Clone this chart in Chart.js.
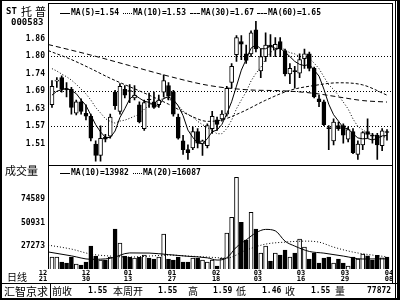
<!DOCTYPE html>
<html lang="zh-CN">
<head>
<meta charset="UTF-8">
<title>ST托普 000583 日线</title>
<style>
  body { margin: 0; background: #fff; }
  #wrap { position: relative; width: 400px; height: 300px; overflow: hidden; background: #fff; }
  canvas { position: absolute; left: 0; top: 0; }
  .ln { position: absolute; background: #000; }
  .dot { position: absolute; height: 0; border-top: 1px dotted #000; }
  .dash { position: absolute; height: 0; border-top: 1px dashed #000; }
  .t { position: absolute; white-space: nowrap; color: #000; line-height: 1; transform: translateY(-50%); }
  .cn { font-family: "Noto Sans CJK SC", sans-serif; font-size: 10px; }
  .num { font-family: "DejaVu Sans Mono", monospace; font-size: 8px; font-weight: bold; }
</style>
</head>
<body>
<div id="wrap">
  <canvas id="vol" width="400" height="300"></canvas>
  <canvas id="price" width="400" height="170"></canvas>

  <!-- frame -->
  <div class="ln" style="left:0;top:0;width:2px;height:300px"></div>
  <div class="ln" style="left:0;top:0;width:400px;height:1px"></div>
  <div class="ln" style="left:48px;top:3px;width:345px;height:1px"></div>
  <div class="ln" style="left:48px;top:3px;width:1px;height:266px"></div>
  <div class="ln" style="left:392px;top:3px;width:1px;height:280px"></div>
  <div class="ln" style="left:395px;top:0;width:1px;height:300px"></div>
  <div class="ln" style="left:397px;top:0;width:3px;height:300px"></div>
  <div class="ln" style="left:48px;top:165px;width:345px;height:1px"></div>
  <div class="ln" style="left:0;top:283px;width:400px;height:1px"></div>
  <div class="ln" style="left:0;top:298px;width:400px;height:2px"></div>
  <div class="ln" style="left:50px;top:283px;width:1px;height:15px"></div>

  <!-- title -->
  <div class="t num" style="left:6px;top:11px;font-size:9px">ST</div>
  <div class="t cn" style="left:21px;top:11px;font-size:11px">托</div>
  <div class="t cn" style="left:35px;top:11px;font-size:11px">普</div>
  <div class="t num" style="left:11px;top:22px;font-size:9px">000583</div>

  <!-- price legend -->
  <div class="ln" style="left:60px;top:13px;width:10px;height:1px"></div>
  <div class="t num" style="left:71px;top:13px">MA(5)=1.54</div>
  <div class="dot" style="left:123px;top:13px;width:9px"></div>
  <div class="t num" style="left:133px;top:13px">MA(10)=1.53</div>
  <div class="dash" style="left:190px;top:13px;width:10px"></div>
  <div class="t num" style="left:201px;top:13px">MA(30)=1.67</div>
  <div class="dash" style="left:257px;top:13px;width:10px"></div>
  <div class="t num" style="left:268px;top:13px">MA(60)=1.65</div>

  <!-- volume legend -->
  <div class="t cn" style="left:5px;top:170px;font-size:11px">成交量</div>
  <div class="ln" style="left:60px;top:173px;width:10px;height:1px"></div>
  <div class="t num" style="left:71px;top:173px">MA(10)=13982</div>
  <div class="dot" style="left:133px;top:173px;width:9px"></div>
  <div class="t num" style="left:143px;top:173px">MA(20)=16087</div>

  <div class="t cn" style="left:7px;top:277px">日线</div>

  <!-- info bar -->
  <div class="t cn" style="left:4px;top:291px;font-size:11px">汇智京求</div>
  <div class="t cn" style="left:52px;top:291px">前收</div>
  <div class="t num" style="left:88px;top:291px">1.55</div>
  <div class="t cn" style="left:113px;top:291px">本周开</div>
  <div class="t num" style="left:158px;top:291px">1.55</div>
  <div class="t cn" style="left:188px;top:291px">高</div>
  <div class="t num" style="left:213px;top:291px">1.59</div>
  <div class="t cn" style="left:236px;top:291px">低</div>
  <div class="t num" style="left:262px;top:291px">1.46</div>
  <div class="t cn" style="left:285px;top:291px">收</div>
  <div class="t num" style="left:311px;top:291px">1.55</div>
  <div class="t cn" style="left:335px;top:291px">量</div>
  <div class="t num" style="left:367px;top:291px">77872</div>
</div>

<script src="https://cdn.jsdelivr.net/npm/chart.js"></script>
<script>
// daily candles
const opens = [1.640,1.718,1.730,1.693,1.691,1.612,1.650,1.612,1.602,1.510,
  1.472,1.533,1.536,1.682,1.618,1.691,1.686,1.663,1.640,1.561,
  1.657,1.650,1.640,1.682,1.704,1.682,1.599,1.520,1.491,1.497,
  1.551,1.510,1.504,1.561,1.590,1.593,1.609,1.714,1.806,1.850,
  1.809,1.809,1.889,1.752,1.800,1.838,1.822,1.850,1.819,1.742,
  1.752,1.745,1.793,1.809,1.761,1.660,1.650,1.563,1.520,1.571,
  1.571,1.526,1.551,1.475,1.507,1.551,1.537,1.539,1.504,1.550];
const highs = [1.720,1.730,1.736,1.714,1.698,1.656,1.660,1.640,1.609,1.520,
  1.570,1.542,1.609,1.688,1.710,1.704,1.707,1.704,1.650,1.656,
  1.679,1.682,1.672,1.739,1.714,1.688,1.609,1.539,1.507,1.567,
  1.561,1.523,1.577,1.618,1.599,1.621,1.701,1.777,1.870,1.870,
  1.838,1.885,1.917,1.825,1.879,1.873,1.863,1.863,1.825,1.777,
  1.768,1.809,1.825,1.815,1.765,1.672,1.656,1.571,1.593,1.583,
  1.577,1.567,1.561,1.520,1.551,1.593,1.545,1.545,1.561,1.558];
const lows = [1.631,1.698,1.682,1.666,1.609,1.606,1.609,1.590,1.520,1.453,
  1.453,1.517,1.529,1.625,1.609,1.663,1.647,1.656,1.580,1.555,
  1.631,1.628,1.631,1.666,1.656,1.602,1.526,1.475,1.459,1.491,
  1.497,1.472,1.497,1.545,1.555,1.586,1.602,1.695,1.784,1.790,
  1.777,1.800,1.815,1.730,1.784,1.800,1.800,1.800,1.736,1.710,
  1.695,1.730,1.761,1.752,1.663,1.634,1.571,1.491,1.507,1.555,
  1.513,1.517,1.478,1.459,1.491,1.529,1.513,1.459,1.488,1.523];
const closes = [1.701,1.722,1.691,1.690,1.631,1.650,1.618,1.602,1.529,1.472,
  1.529,1.526,1.599,1.637,1.701,1.672,1.684,1.672,1.583,1.647,
  1.656,1.631,1.656,1.720,1.669,1.609,1.529,1.491,1.481,1.551,
  1.513,1.520,1.571,1.602,1.575,1.609,1.695,1.768,1.863,1.841,
  1.787,1.879,1.825,1.800,1.838,1.831,1.841,1.825,1.742,1.761,
  1.750,1.790,1.809,1.761,1.666,1.650,1.574,1.561,1.583,1.561,
  1.539,1.558,1.481,1.510,1.548,1.542,1.536,1.507,1.554,1.548];
const volumes = [15795,15795,10720,9705,15795,8690,7675,10720,26960,16810,
  12750,12750,15795,44215,30000,16810,15795,14780,15795,17825,
  14780,13765,15795,39140,13765,12750,15795,10720,10720,14780,
  14780,12750,10720,12750,6660,14780,40155,56395,96995,51320,
  33050,61470,44215,19855,26960,11735,19855,17825,22900,15795,
  19855,34065,25945,13765,19855,9705,14780,15795,9705,13765,
  9705,6660,15795,13765,18840,17000,12500,17500,15000,15872];

// moving average lines as they appear in the picture
const ma5 = [1.672,1.685,1.690,1.695,1.687,1.677,1.656,1.638,1.606,1.574,
  1.550,1.532,1.531,1.553,1.598,1.627,1.659,1.673,1.662,1.652,
  1.648,1.638,1.635,1.662,1.666,1.657,1.637,1.604,1.556,1.532,
  1.513,1.511,1.527,1.551,1.556,1.575,1.610,1.650,1.702,1.755,
  1.791,1.828,1.839,1.826,1.826,1.835,1.827,1.827,1.815,1.800,
  1.784,1.774,1.770,1.774,1.755,1.735,1.692,1.642,1.607,1.586,
  1.564,1.560,1.544,1.530,1.527,1.528,1.523,1.529,1.537,1.538];
const ma10 = [1.760,1.752,1.742,1.733,1.722,1.708,1.692,1.676,1.656,1.631,
  1.613,1.594,1.585,1.579,1.586,1.589,1.595,1.602,1.608,1.625,
  1.638,1.648,1.654,1.662,1.659,1.653,1.637,1.619,1.609,1.599,
  1.585,1.574,1.565,1.554,1.544,1.544,1.561,1.589,1.627,1.656,
  1.683,1.719,1.744,1.764,1.791,1.813,1.827,1.833,1.821,1.813,
  1.809,1.800,1.799,1.795,1.778,1.760,1.733,1.706,1.691,1.671,
  1.649,1.626,1.593,1.568,1.557,1.546,1.542,1.537,1.534,1.533];
const ma30At = [-0.8, 4, 8, 12, 16, 20, 24, 29, 32, 35, 39, 44, 49, 54, 59, 64, 69];
const ma30 = [1.820,1.790,1.760,1.728,1.700,1.672,1.642,1.600,1.585,1.590,1.615,1.655,1.688,1.704,1.713,1.706,1.672];
const ma60At = [-0.8, 8, 16, 24, 32, 40, 48, 54, 59, 64, 69];
const ma60 = [1.840,1.805,1.770,1.735,1.705,1.690,1.686,1.678,1.666,1.654,1.649];

const volMa10At = [-0.8,4,8,12,16,20,24,28,32,34,36,38,40,42,44,46,48,50,53,56,60,64,69];
const volMa10 = [21000,17000,13500,14500,20000,19855,18300,16600,15000,12750,15000,26000,
  33300,40500,44000,42500,32000,27000,21500,19800,16800,13800,13982];
const volMa20At = [-0.8,4,8,12,16,20,24,28,32,36,40,44,48,52,55,58,62,66,69];
const volMa20 = [27975,23915,18840,16810,15795,16810,17825,16810,15795,14780,22900,
  28990,31020,32030,31020,25945,20870,17825,16087];

// axis ticks
const priceTicks = [1.51, 1.5683, 1.6267, 1.685, 1.7433, 1.8017, 1.86];
const priceTickLabels = ['1.51', '1.57', '1.63', '1.69', '1.74', '1.80', '1.86'];
const volTicks = [27273, 50931, 74589];
const volTickLabels = ['27273', '50931', '74589'];
const dateTickAt = [-1.85, 7.0, 15.65, 24.7, 33.8, 42.4, 51.3, 60.35, 69.4];
const dateTickLabels = [['12','21'],['12','30'],['01','13'],['01','27'],['02','18'],
  ['03','03'],['03','16'],['03','29'],['04','08']];

const monoFont = { family: '"DejaVu Sans Mono", monospace', size: 8, weight: 'bold' };
const isUp = i => closes[i] > opens[i];
const idx = closes.map((_, i) => i);
const pts = (xs, ys) => xs.map((x, k) => ({ x: x, y: ys[k] }));
const candleColor = c => isUp(c.dataIndex) ? '#fff' : '#000';

function maLine(data, dash, smooth) {
  return {
    type: 'line', data: data, borderColor: '#000', borderWidth: 1, borderDash: dash,
    pointRadius: 0, fill: false, tension: 0,
    cubicInterpolationMode: smooth ? 'monotone' : 'default', order: 0
  };
}

// price panel
new Chart(document.getElementById('price'), {
  type: 'bar',
  data: {
    datasets: [
      maLine(pts(idx, ma5), [], false),
      maLine(pts(idx, ma10), [1, 2], false),
      maLine(pts(ma30At, ma30), [3, 2], true),
      maLine(pts(ma60At, ma60), [5, 3], true),
      {
        data: idx.map(i => ({ x: i, y: [opens[i], closes[i]] })),
        backgroundColor: candleColor, borderColor: '#000', borderWidth: 1,
        borderSkipped: false, barThickness: 4, minBarLength: 1, grouped: false, order: 1
      },
      {
        data: idx.map(i => ({ x: i, y: [lows[i], highs[i]] })),
        backgroundColor: '#000', borderWidth: 0, barThickness: 1, grouped: false, order: 2
      }
    ]
  },
  options: {
    responsive: false, animation: false, devicePixelRatio: 1,
    layout: { padding: { top: 4, right: 8, bottom: 5, left: 0 } },
    plugins: { legend: { display: false }, tooltip: { enabled: false } },
    scales: {
      x: { type: 'linear', min: -0.82, max: 70.03, offset: false, display: false },
      y: {
        min: 1.4495, max: 1.9618,
        afterFit: s => { s.width = 48; },
        afterBuildTicks: s => { s.ticks = priceTicks.map(v => ({ value: v })); },
        ticks: { autoSkip: false, padding: 3, color: '#000', font: monoFont,
          callback: (v, i) => priceTickLabels[i] },
        grid: { drawTicks: false, lineWidth: 1,
          color: c => (c.index % 2 === 1) ? '#000' : 'rgba(0,0,0,0)' },
        border: { display: false, dash: [1, 2] }
      }
    }
  }
});

// volume panel
new Chart(document.getElementById('vol'), {
  type: 'bar',
  data: {
    datasets: [
      maLine(pts(volMa10At, volMa10), [], true),
      maLine(pts(volMa20At, volMa20), [1, 2], true),
      {
        data: idx.map(i => ({ x: i, y: volumes[i] })),
        backgroundColor: candleColor, borderColor: '#000', borderWidth: 1,
        barThickness: 4, grouped: false, order: 1
      }
    ]
  },
  options: {
    responsive: false, animation: false, devicePixelRatio: 1,
    layout: { padding: { top: 165, right: 8, bottom: 0, left: 0 } },
    plugins: { legend: { display: false }, tooltip: { enabled: false } },
    scales: {
      x: {
        type: 'linear', min: -0.82, max: 70.03, offset: false,
        afterFit: s => { s.height = 31; },
        afterBuildTicks: s => { s.ticks = dateTickAt.map(v => ({ value: v })); },
        ticks: { autoSkip: false, maxRotation: 0, padding: 1, color: '#000',
          font: { family: '"DejaVu Sans Mono", monospace', size: 7, weight: 'bold', lineHeight: 0.9 },
          callback: (v, i) => dateTickLabels[i] },
        grid: { display: false, drawTicks: false },
        border: { display: false }
      },
      y: {
        min: 3615, max: 109664,
        afterFit: s => { s.width = 48; },
        afterBuildTicks: s => { s.ticks = volTicks.map(v => ({ value: v })); },
        ticks: { autoSkip: false, padding: 3, color: '#000', font: monoFont,
          callback: (v, i) => volTickLabels[i] },
        grid: { display: false, drawTicks: false },
        border: { display: false }
      }
    }
  }
});
</script>
</body>
</html>
